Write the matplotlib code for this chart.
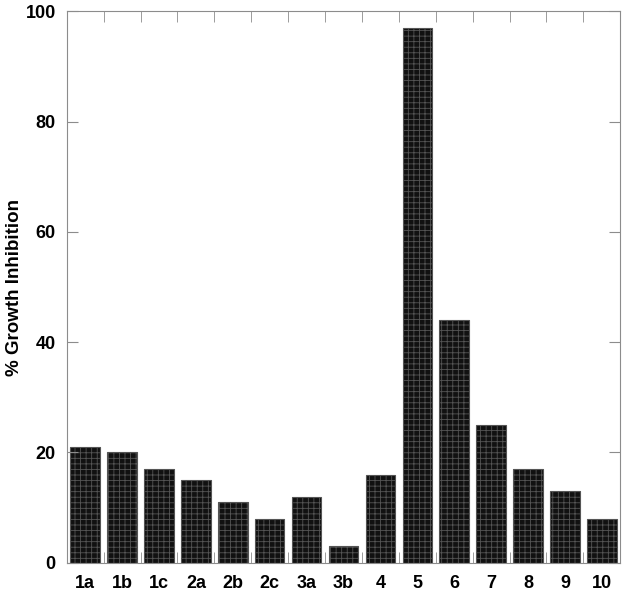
import matplotlib.pyplot as plt
import numpy as np

compounds = ["1a", "1b", "1c", "2a", "2b", "2c", "3a", "3b", "4", "5", "6", "7", "8", "9", "10"]
inhibition = [21, 20, 17, 15, 11, 8, 12, 3, 16, 97, 44, 25, 17, 13, 8]

plt.rcParams["font.family"] = ["Liberation Sans", "DejaVu Sans"]
plt.rcParams["hatch.color"] = "#7a7a7a"
plt.rcParams["hatch.linewidth"] = 0.6

fig = plt.figure(figsize=(6.24, 5.93), dpi=100)
ax = fig.add_axes([0.107, 0.051, 0.887, 0.930])

x = np.arange(len(compounds))
ax.bar(x, inhibition, width=0.8, color="#111111", edgecolor="#555555",
       linewidth=0.8, hatch="+++")

ax.set_xlim(-0.5, len(compounds) - 0.5)
ax.set_ylim(0, 100)
ax.set_yticks([0, 20, 40, 60, 80, 100])
ax.set_xticks(x)
ax.set_xticklabels(compounds, fontsize=13, fontweight="bold")
ax.set_xticks(np.arange(0.5, len(compounds) - 0.5), minor=True)
for lab in ax.get_yticklabels():
    lab.set_fontweight("bold")
    lab.set_fontsize(13)

ax.tick_params(axis="x", which="major", length=0, pad=9)
ax.tick_params(axis="x", which="minor", direction="in", length=8,
               top=True, bottom=True, color="#8c8c8c")
ax.tick_params(axis="y", direction="in", length=8, right=True,
               color="#8c8c8c", pad=8)

for s in ax.spines.values():
    s.set_color("#8c8c8c")

ax.set_ylabel("% Growth Inhibition", fontsize=13.5, fontweight="bold", labelpad=2)

fig.savefig("out.png", dpi=100)
